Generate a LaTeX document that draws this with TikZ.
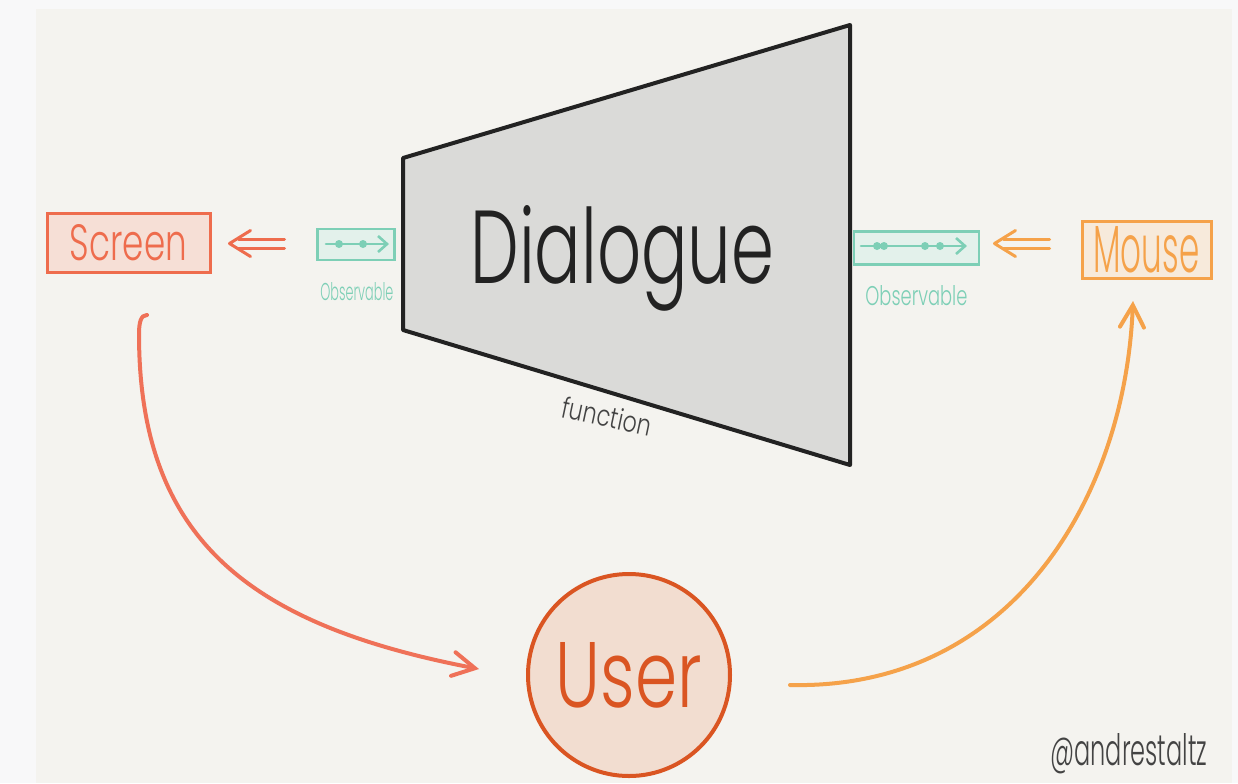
\documentclass[tikz,border=0pt]{standalone}
\usepackage{fontspec}
\newfontfamily\hand{Poppins Light}
\usetikzlibrary{arrows.meta,calc}

\definecolor{pagebg}{HTML}{F8F8F9}
\definecolor{paper}{HTML}{F4F3EF}
\definecolor{coral}{HTML}{EE6C4D}
\definecolor{coralfill}{HTML}{F6DFD6}
\definecolor{flowred}{HTML}{EF7158}
\definecolor{mint}{HTML}{7DCFB6}
\definecolor{mintfill}{HTML}{E3F1EB}
\definecolor{amber}{HTML}{F5A24A}
\definecolor{amberfill}{HTML}{F7EADB}
\definecolor{rust}{HTML}{DA5522}
\definecolor{rustfill}{HTML}{F2DDD0}
\definecolor{slab}{HTML}{DADAD8}
\definecolor{ink}{HTML}{222222}

% hand-lettered label squeezed to a given width and height
\newcommand{\hw}[3]{\resizebox{#1}{#2}{\hand #3}}

\begin{document}
\begin{tikzpicture}[x=0.5pt,y=-0.5pt,
  box/.style={draw, line width=1.5pt, inner sep=0pt},
  streambox/.style={draw=mint, fill=mintfill, line width=1.2pt, inner sep=0pt},
  streamline/.style={mint, line width=1.3pt, line cap=round, -{Straight Barb[length=4.5pt,width=8pt]}},
  streamdot/.style={fill=mint},
  word/.style={inner sep=0pt, anchor=base west},
  feed/.style={line width=1.5pt, line cap=round, line join=round},
  flow/.style={line width=2pt, line cap=round,
    -{Straight Barb[length=11pt,width=12pt,line cap=round]}}
]
% page and paper sheet
\fill[pagebg] (0,0) rectangle (1238,783);
\useasboundingbox (0,0) rectangle (1238,783);
\fill[paper] (36,9) rectangle (1232,783);

% the dialogue function as a widening funnel
\filldraw[fill=slab, draw=ink, line width=2pt, line join=round]
  (403,158) -- (850,25) -- (850,465) -- (403,330) -- cycle;
\node[word, text=ink] (dialogue) at (470,283) {\hw{152pt}{39pt}{Dialogue}};
\node[inner sep=0pt, rotate=-12, text=ink!85] (fn) at (607,416) {\hw{45pt}{11pt}{function}};

% sink and source boxes
\node[box, draw=coral, fill=coralfill, text=coral, minimum width=81.5pt, minimum height=29.5pt]
  (screen) at (128.5,242.5) {\hw{58.5pt}{18pt}{Screen}};
\node[box, draw=amber, fill=amberfill, text=amber, minimum width=64.5pt, minimum height=28.5pt]
  (mouse) at (1146.5,249.5) {\hw{53pt}{23pt}{Mouse}};

% user
\node[circle, draw=rust, fill=rustfill, text=rust, line width=2pt, minimum size=101pt, inner sep=0pt]
  (user) at (629,675) {\hw{73pt}{32.5pt}{User}};

% output stream
\node[streambox, minimum width=38.5pt, minimum height=15.5pt] (obsL) at (356,244.5) {};
\draw[streamline] (326,244) -- (389,244);
\fill[streamdot] (339,244) circle[radius=2pt] (363,244) circle[radius=2pt];
\node[word, text=mint] (obsLlabel) at (320,300) {\hw{36.5pt}{9pt}{Observable}};

% input stream
\node[streambox, minimum width=62.5pt, minimum height=16.5pt] (obsR) at (916.5,248) {};
\draw[streamline] (861,246) -- (967,246);
\fill[streamdot] (877,246) circle[radius=2pt] (884,246) circle[radius=2pt]
  (925,246) circle[radius=2pt] (940,246) circle[radius=2pt];
\node[word, text=mint] (obsRlabel) at (865,305) {\hw{51pt}{10pt}{Observable}};

% streams feeding in and out: a hand-drawn double arrow pointing left
% #1 colour, #2 tip point, #3 length of the shaft
\newcommand{\feedarrow}[3]{%
  \draw[feed, #1] ($(#2)+(21,-13)$) -- (#2) -- ($(#2)+(21,13)$);
  \draw[feed, #1] ($(#2)+(9,-4.5)$) -- ++(#3,0);
  \draw[feed, #1] ($(#2)+(9,4.5)$) -- ++(#3,0);
}
\coordinate (screenFeed) at ($(screen.east)+(18,1)$);
\feedarrow{coral}{screenFeed}{46}
\coordinate (mouseFeed) at ($(mouse.west)+(-86,-6)$);
\feedarrow{amber}{mouseFeed}{46}
\path (obsL.west) -- (screenFeed) (mouse.west) -- (mouseFeed);

% the loop through the user
\coordinate (scrOut) at (147,315);
\coordinate (usrIn) at (479,669);
\draw[flow, flowred] (scrOut) .. controls (141,315) and (139,322) .. (139,334)
  .. controls (139,540) and (250,625) .. (usrIn);
\coordinate (usrOut) at (790,685);
\coordinate (mouseIn) at (1133,301);
\draw[flow, amber] (usrOut) .. controls (1010,690) and (1125,500) .. (mouseIn);

% signature
\node[word, text=ink!85] (sig) at (1050,765) {\hw{78.5pt}{16pt}{@andrestaltz}};
\end{tikzpicture}
\end{document}
